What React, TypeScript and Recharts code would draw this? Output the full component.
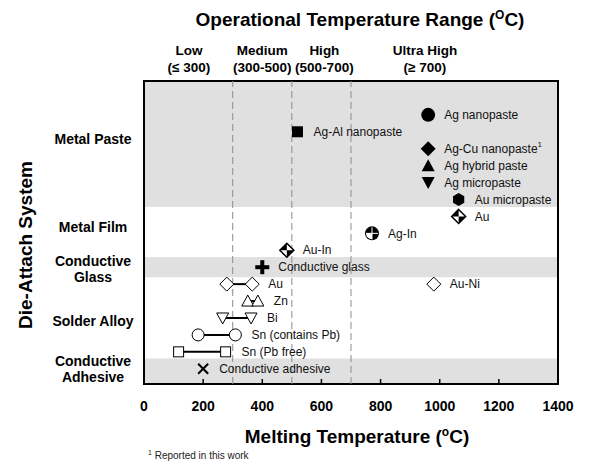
import React from 'react';
import {
  ScatterChart,
  Scatter,
  XAxis,
  YAxis,
  ReferenceArea,
  ReferenceLine
} from 'recharts';

const FONT = '"Liberation Sans", Arial, Helvetica, sans-serif';

// one entry per material; rows count from the top of the plot
const materials = [
  'Ag nanopaste', 'Ag-Al nanopaste', 'Ag-Cu nanopaste', 'Ag hybrid paste', 'Ag micropaste',
  'Au micropaste', 'Au', 'Ag-In', 'Au-In', 'Conductive glass', 'Au', 'Au-Ni', 'Zn', 'Bi',
  'Sn (contains Pb)', 'Sn (Pb free)', 'Conductive adhesive'
];
const rows = [0, 1, 2, 3, 4, 5, 6, 7, 8, 9, 10, 10, 11, 12, 13, 14, 15];
const meltLow = [961, 519, 961, 961, 961, 1064, 1064, 771, 483, 400, 280, 980, 351, 266, 183, 117, 200];
const meltHigh = [null, null, null, null, null, null, null, null, null, null, 366, null, 385, 362, 309, 276, null];
const markers = [
  'disc', 'square', 'diamond', 'triangle', 'invTriangle', 'hexagon', 'quadDiamond', 'quadCircle',
  'quadDiamond', 'plus', 'openDiamond', 'openDiamond', 'openTriangle', 'openInvTriangle',
  'openCircle', 'openSquare', 'cross'
];
const notes = ['', '', '1', '', '', '', '', '', '', '', '', '', '', '', '', '', ''];

const systems = ['Metal Paste', 'Metal Film', 'Conductive\nGlass', 'Solder Alloy', 'Conductive\nAdhesive'];
const systemRows = [1.45, 6.65, 9.1, 12.2, 15];
const shadedFrom = [-2, 8.4, 14.4];
const shadedTo = [5.45, 9.6, 15.9];

const zoneNames = ['Low', 'Medium', 'High', 'Ultra High'];
const zoneRanges = ['(≤ 300)', '(300-500)', '(500-700)', '(≥ 700)'];
const zoneAt = [152, 400, 610, 950];
const zoneLimits = [300, 500, 700];

const xTicks = [0, 200, 400, 600, 800, 1000, 1200, 1400];
const rowDomain: [number, number] = [-2, 15.9];

const series = materials.map((name, i) => {
  const hi = meltHigh[i];
  const base = { y: rows[i], kind: markers[i] };
  if (hi == null) return [{ ...base, x: meltLow[i], label: name, note: notes[i] }];
  return [
    { ...base, x: meltLow[i], label: '', note: '' },
    { ...base, x: hi, label: name, note: notes[i] }
  ];
});

const diamondPts = (cx: number, cy: number, r: number) =>
  `${cx},${cy - r} ${cx + r},${cy} ${cx},${cy + r} ${cx - r},${cy}`;

const Mark = (props: any) => {
  const { cx, cy, payload } = props;
  if (cx == null || cy == null) return null;
  let m: React.ReactNode = null;
  switch (payload.kind) {
    case 'disc':
      m = <circle cx={cx} cy={cy} r={7} fill="#000" />;
      break;
    case 'square':
      m = <rect x={cx - 5.5} y={cy - 5.5} width={11} height={11} fill="#000" />;
      break;
    case 'diamond':
      m = <polygon points={diamondPts(cx, cy, 7.5)} fill="#000" />;
      break;
    case 'triangle':
      m = <polygon points={`${cx},${cy - 6.5} ${cx + 6.5},${cy + 5.5} ${cx - 6.5},${cy + 5.5}`} fill="#000" />;
      break;
    case 'invTriangle':
      m = <polygon points={`${cx},${cy + 6.5} ${cx + 6.5},${cy - 5.5} ${cx - 6.5},${cy - 5.5}`} fill="#000" />;
      break;
    case 'hexagon': {
      const pts = [0, 1, 2, 3, 4, 5]
        .map(k => {
          const a = (Math.PI / 3) * k - Math.PI / 2;
          return `${cx + 6.5 * Math.cos(a)},${cy + 6.5 * Math.sin(a)}`;
        })
        .join(' ');
      m = <polygon points={pts} fill="#000" />;
      break;
    }
    case 'quadDiamond':
      m = (
        <g>
          <polygon points={diamondPts(cx, cy, 7)} fill="#fff" />
          <polygon points={`${cx - 7},${cy} ${cx},${cy - 7} ${cx},${cy}`} fill="#000" />
          <polygon points={`${cx + 7},${cy} ${cx},${cy + 7} ${cx},${cy}`} fill="#000" />
          <polygon points={diamondPts(cx, cy, 7)} fill="none" stroke="#000" strokeWidth={1.5} />
        </g>
      );
      break;
    case 'quadCircle':
      m = (
        <g>
          <circle cx={cx} cy={cy} r={7} fill="#000" />
          <path d={`M${cx},${cy} L${cx - 6},${cy} A6,6 0 0 0 ${cx},${cy + 6} Z`} fill="#fff" />
          <line x1={cx - 6} y1={cy} x2={cx + 6} y2={cy} stroke="#fff" strokeWidth={1} />
          <line x1={cx} y1={cy - 6} x2={cx} y2={cy + 6} stroke="#fff" strokeWidth={1} />
        </g>
      );
      break;
    case 'plus':
      m = (
        <g fill="#000">
          <rect x={cx - 7} y={cy - 2} width={14} height={4} />
          <rect x={cx - 2} y={cy - 7} width={4} height={14} />
        </g>
      );
      break;
    case 'cross':
      m = (
        <g stroke="#000" strokeWidth={2}>
          <line x1={cx - 5} y1={cy - 5} x2={cx + 5} y2={cy + 5} />
          <line x1={cx - 5} y1={cy + 5} x2={cx + 5} y2={cy - 5} />
        </g>
      );
      break;
    case 'openDiamond':
      m = <polygon points={diamondPts(cx, cy, 7)} fill="#fff" stroke="#000" strokeWidth={1} />;
      break;
    case 'openTriangle':
      m = <polygon points={`${cx},${cy - 6} ${cx + 6},${cy + 5} ${cx - 6},${cy + 5}`} fill="#fff" stroke="#000" strokeWidth={1} />;
      break;
    case 'openInvTriangle':
      m = <polygon points={`${cx},${cy + 6} ${cx + 6},${cy - 5} ${cx - 6},${cy - 5}`} fill="#fff" stroke="#000" strokeWidth={1} />;
      break;
    case 'openCircle':
      m = <circle cx={cx} cy={cy} r={6} fill="#fff" stroke="#000" strokeWidth={1} />;
      break;
    case 'openSquare':
      m = <rect x={cx - 5} y={cy - 5} width={10} height={10} fill="#fff" stroke="#000" strokeWidth={1} />;
      break;
  }
  return (
    <g>
      {m}
      {payload.label && (
        <text x={cx + 16} y={cy} dy="0.35em" fontSize={12} fontFamily={FONT} fill="#111">
          {payload.label}
          {payload.note && (
            <tspan dy={-6} fontSize={8}>
              {payload.note}
            </tspan>
          )}
        </text>
      )}
    </g>
  );
};

const BottomTick = (props: any) => {
  const { x, y, payload } = props;
  return (
    <g>
      <line x1={x} y1={y} x2={x} y2={y - 5} stroke="#000" strokeWidth={1.5} />
      <text x={x} y={y + 27} textAnchor="middle" fontSize={14} fontWeight="bold" fontFamily={FONT} fill="#000">
        {payload.value}
      </text>
    </g>
  );
};

// zone captions above the plot, hung on invisible reference lines
const ZoneLabel = (props: any) => {
  const { viewBox, index } = props;
  if (!viewBox) return null;
  const x = viewBox.x;
  const y = viewBox.y;
  return (
    <text x={x} y={y} textAnchor="middle" fontSize={13.5} fontWeight="bold" fontFamily={FONT} fill="#000">
      <tspan x={x} dy={-26}>{zoneNames[index]}</tspan>
      <tspan x={x} dy={17}>{zoneRanges[index]}</tspan>
    </text>
  );
};

const SystemTick = (props: any) => {
  const { x, y, index } = props;
  const lines = systems[index].split('\n');
  const first = lines.length === 1 ? 5 : -3;
  return (
    <text x={x - 51} y={y} textAnchor="middle" fontSize={14} fontWeight="bold" fontFamily={FONT} fill="#000">
      {lines.map((l, i) => (
        <tspan key={i} x={x - 51} dy={i === 0 ? first : 16}>
          {l}
        </tspan>
      ))}
    </text>
  );
};

const abs = (left: number, top: number, extra: React.CSSProperties = {}): React.CSSProperties => ({
  position: 'absolute',
  left,
  top,
  fontFamily: FONT,
  whiteSpace: 'nowrap',
  lineHeight: 1,
  ...extra
});

export default function App() {
  return (
    <div style={{ position: 'absolute', left: 0, top: 0, width: 593, height: 466, background: '#fff' }}>
      <ScatterChart width={593} height={466} margin={{ top: 81, right: 35, bottom: 52, left: 0 }}>
        <XAxis
          xAxisId="main"
          dataKey="x"
          type="number"
          domain={[0, 1400]}
          ticks={xTicks}
          height={30}
          axisLine={false}
          tickLine={false}
          tickSize={0}
          tickMargin={0}
          tick={<BottomTick />}
          allowDataOverflow
        />
        <YAxis
          dataKey="y"
          type="number"
          domain={rowDomain}
          reversed
          ticks={systemRows}
          width={144}
          axisLine={false}
          tickLine={false}
          tickSize={0}
          tickMargin={0}
          tick={<SystemTick />}
          allowDataOverflow
        />
        {shadedFrom.map((f, i) => (
          <ReferenceArea
            key={'band' + i}
            xAxisId="main"
            x1={0}
            x2={1400}
            y1={f}
            y2={shadedTo[i]}
            fill="#e0e0e0"
            fillOpacity={1}
            stroke="none"
          />
        ))}
        {zoneLimits.map(v => (
          <ReferenceLine key={'zone' + v} xAxisId="main" x={v} stroke="#8c8c8c" strokeDasharray="7 4" />
        ))}
        {zoneAt.map((v, i) => (
          <ReferenceLine
            key={'zl' + i}
            xAxisId="main"
            x={v}
            stroke="none"
            label={<ZoneLabel index={i} />}
          />
        ))}
        {series.map((pts, i) => (
          <Scatter
            key={'s' + i}
            xAxisId="main"
            data={pts}
            shape={(p: any) => <Mark {...p} />}
            line={pts.length > 1 ? { stroke: '#000', strokeWidth: 2 } : false}
            isAnimationActive={false}
            legendType="none"
          />
        ))}
        <ReferenceArea
          xAxisId="main"
          x1={0}
          x2={1400}
          y1={rowDomain[0]}
          y2={rowDomain[1]}
          fill="none"
          stroke="#000"
          strokeWidth={2}
        />
      </ScatterChart>

      <div style={abs(360, 9, { transform: 'translateX(-50%)', fontSize: 19, fontWeight: 'bold' })}>
        Operational Temperature Range (<sup style={{ fontSize: 12 }}>O</sup>C)
      </div>
      <div
        style={abs(25, 245, {
          transform: 'translate(-50%, -50%) rotate(-90deg)',
          fontSize: 19,
          fontWeight: 'bold'
        })}
      >
        Die-Attach System
      </div>
      <div style={abs(357, 426, { transform: 'translateX(-50%)', fontSize: 19, fontWeight: 'bold' })}>
        Melting Temperature (<sup style={{ fontSize: 12 }}>o</sup>C)
      </div>
      <div style={abs(148, 449, { fontSize: 10, color: '#222' })}>
        <sup style={{ fontSize: 7 }}>1</sup> Reported in this work
      </div>
    </div>
  );
}
